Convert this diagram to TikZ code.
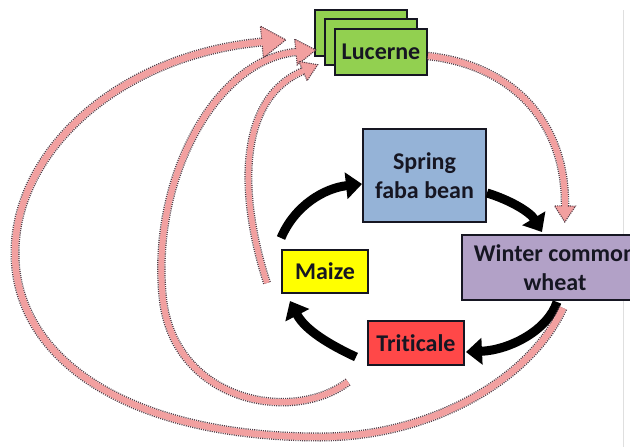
\documentclass[tikz,border=0pt]{standalone}
\usepackage{fontspec}
\setmainfont{Carlito}[Ligatures=NoCommon]
\usetikzlibrary{arrows.meta,decorations.markings,calc}

\definecolor{pinkflow}{RGB}{242,160,160}
\definecolor{pinkedge}{RGB}{85,60,70}
\definecolor{lucgreen}{RGB}{146,208,80}
\definecolor{beanblue}{RGB}{149,179,215}
\definecolor{wheatlilac}{RGB}{178,161,199}
\definecolor{maizeyellow}{RGB}{255,255,0}
\definecolor{tritred}{RGB}{255,72,72}
\definecolor{inkc}{RGB}{22,22,34}

\tikzset{
  crop/.style={draw=inkc, line width=1.6pt, inner sep=0pt, outer sep=0pt,
    font=\fontsize{24}{29}\selectfont\bfseries, text=inkc, align=center},
  cycle arrow/.style={line width=9pt, draw=black,
    -{Triangle[length=16pt,width=26pt]}},
  % pink flow: shaft width, head length, head width
  flow/.style n args={3}{
    preaction={draw=pinkedge, line width={#1*1pt}, dash pattern=on 1.1pt off 1.1pt},
    draw=pinkflow, line width={(#1-2.6)*1pt},
    postaction={decorate, decoration={markings, mark=at position 0.9999 with {
      \fill[pinkflow] (0,-#3/2) -- (#2,0) -- (0,#3/2) -- cycle;
      \draw[pinkedge, line width=1.1pt, dash pattern=on 1.1pt off 1.1pt, line join=miter]
        (0,-#1/2+1.3) -- (0,-#3/2) -- (#2,0) -- (0,#3/2) -- (0,#1/2-1.3);
    }}}
  }
}

\begin{document}
\begin{tikzpicture}[x=1pt,y=-1pt]
\useasboundingbox (0,0) rectangle (630,447);
\clip (0,0) rectangle (630,447);
\fill[white] (0,0) rectangle (630,447);

% thin page rule on the right
\draw[gray!25, line width=0.8pt] (623,10) -- (623,447);

% crop boxes
\node[crop, fill=lucgreen, minimum width=92pt, minimum height=46pt] (luc3) at (361,33) {};
\node[crop, fill=lucgreen, minimum width=92pt, minimum height=46pt] (luc2) at (371,42) {};
\node[crop, fill=lucgreen, minimum width=92pt, minimum height=46pt] (luc) at (381,52) {Lucerne};
\node[crop, fill=beanblue, minimum width=123pt, minimum height=93pt] (bean) at (424.5,175.5) {Spring\\faba bean};
\node[crop, fill=wheatlilac, minimum width=186pt, minimum height=65pt] (win) at (555,267.5) {Winter common\\wheat};
\node[crop, fill=maizeyellow, minimum width=86pt, minimum height=43pt] (maize) at (325,271.5) {Maize};
\node[crop, fill=tritred, minimum width=96pt, minimum height=44pt] (trit) at (416,343) {Triticale};

% main rotation
\draw[cycle arrow] ($(maize.north west)+(-1,-12)$) .. controls (295,205) and (325,188) .. ($(bean.west)+(-1,8.5)$);
\draw[cycle arrow] ($(bean.east)+(1,17.5)$) .. controls (510,200) and (530,212) .. ($(win.north west)+(80,-3)$);
\draw[cycle arrow] ($(win.south)+(2,2)$) .. controls (548,330) and (510,350) .. ($(trit.east)+(2,9)$);
\draw[cycle arrow] ($(trit.west)+(-12,14)$) .. controls (330,345) and (305,330) .. ($(maize.south west)+(8,8)$);

% lucerne returns
\draw[flow={8.5}{16}{21}] ($(luc.east)+(1,4)$) .. controls (510,65) and (566,120) .. ($(win.north)+(10,-29)$);
\draw[flow={9}{24}{32}] ($(win.south)+(8,8)$) .. controls (530,380) and (430,437) .. (320,437)
   .. controls (130,437) and (15,360) .. (15,253)
   .. controls (15,150) and (120,55) .. ($(luc.west)+(-73,-10)$);
\draw[flow={8.5}{20}{26}] ($(trit.south west)+(-20,17)$) .. controls (290,425) and (175,400) .. (163,300)
   .. controls (150,180) and (215,60) .. ($(luc2.west)+(-29,10)$);
\draw[flow={8}{16}{21}] ($(maize.west)+(-15,11.5)$) .. controls (240,200) and (235,100) .. ($(luc.west)+(-32,19)$);
\end{tikzpicture}
\end{document}
